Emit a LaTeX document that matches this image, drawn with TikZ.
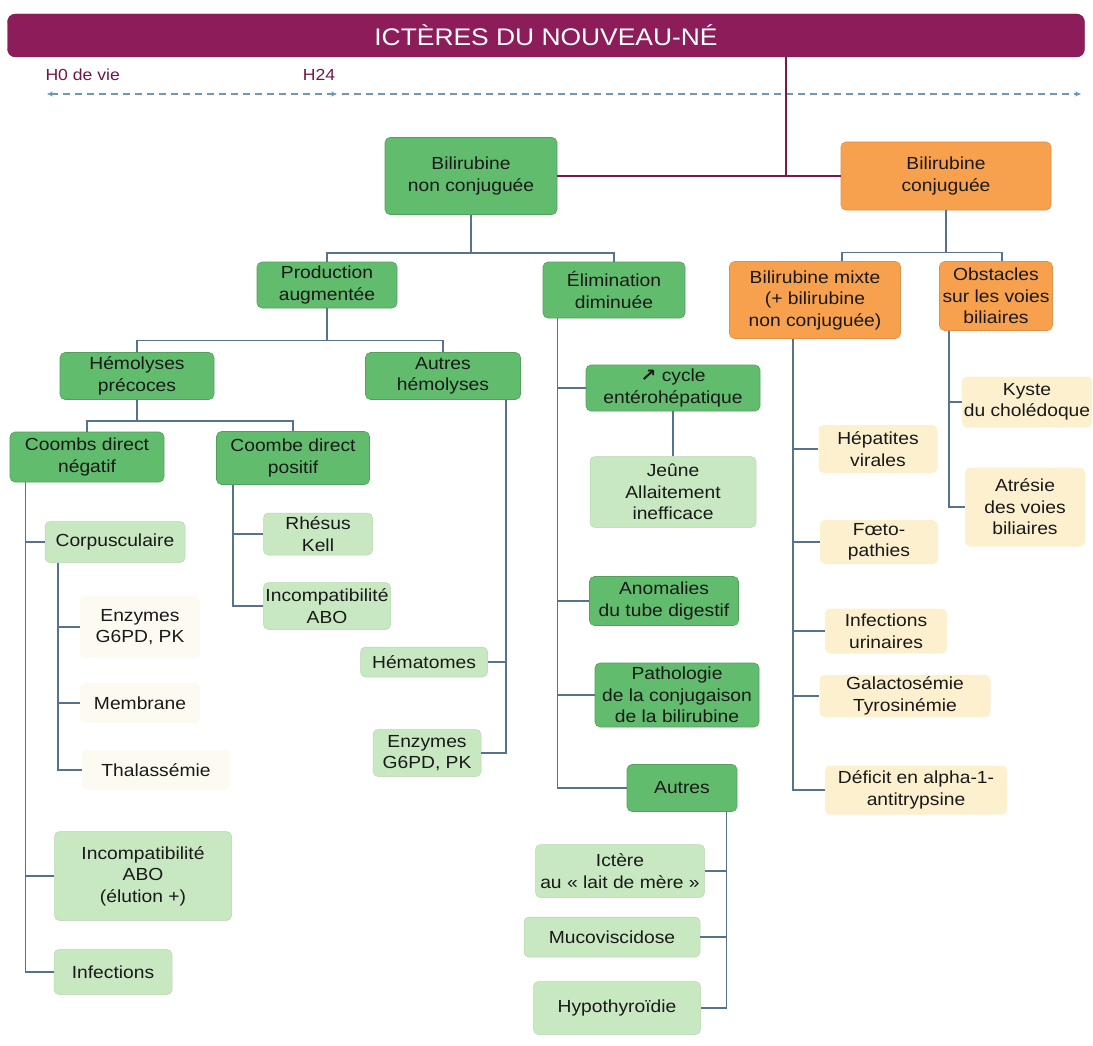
\documentclass[tikz,border=0pt]{standalone}
\usepackage{fontspec}
\setmainfont{Liberation Sans}[FakeStretch=1.1]
\newfontfamily\arrowfont{DejaVu Sans}[FakeStretch=1.1]
\usepackage{xcolor}
\usetikzlibrary{arrows.meta}

\definecolor{titlepurple}{HTML}{8C1D5A}
\definecolor{darkgreen}{HTML}{62BC6E}
\definecolor{lightgreen}{HTML}{C8E8C1}
\definecolor{orangebox}{HTML}{F7A14F}
\definecolor{lightyellow}{HTML}{FDF0CF}
\definecolor{creambox}{HTML}{FDFBF1}
\definecolor{linkblue}{HTML}{56728E}
\definecolor{timeblue}{HTML}{6F98B4}

\tikzset{
  box/.style={rounded corners=5pt, align=center, inner sep=2pt, text=black!90,
    font=\fontsize{17.5}{21.5}\selectfont},
  sz/.style 2 args={minimum width=#1, minimum height=#2},
  dg/.style={box, fill=darkgreen, draw=darkgreen!85!black, line width=0.6pt},
  lg/.style={box, fill=lightgreen, draw=lightgreen!92!black, line width=0.5pt},
  orbox/.style={box, fill=orangebox, draw=orangebox!90!black, line width=0.6pt},
  ly/.style={box, fill=lightyellow},
  cream/.style={box, fill=creambox},
  link/.style={draw=linkblue, line width=1.5pt},
  toplink/.style={draw=titlepurple!85!black, line width=1.5pt},
  timeline/.style={draw=timeblue, line width=1.2pt, dash pattern=on 7pt off 5pt},
  hlabel/.style={text=titlepurple!80!black, font=\fontsize{16}{19}\selectfont}
}

\begin{document}
\begin{tikzpicture}[x=1pt,y=-1pt]
\useasboundingbox (0,0) rectangle (1093,1046);

% title and time line
\node[fill=titlepurple, draw=titlepurple!80!black, rounded corners=8pt, sz={1077}{43},
  text=white, font=\fontsize{24}{28}\selectfont] (title) at (546,35.5) {ICTÈRES DU NOUVEAU-NÉ};
\node[hlabel, anchor=west] (h0) at (42,75) {H0 de vie};
\node[hlabel] (h24) at (319,75) {H24};
\coordinate (tstart) at (47,94);
\coordinate (tmid) at (337,94);
\coordinate (tmidb) at (342,94);
\coordinate (tend) at (1081,94);
\draw[timeline, {Stealth[length=6pt,width=5pt]}-{Stealth[length=6pt,width=5pt]}] (tstart) -- (tmid);
\draw[timeline, -{Stealth[length=6pt,width=5pt]}] (tmidb) -- (tend);

% first level
\node[dg, sz={172}{77}] (bnc) at (471,176) {Bilirubine\\non conjuguée};
\node[orbox, sz={210}{68}] (bc) at (946,176) {Bilirubine\\conjuguée};
\coordinate (tconn) at (786,176);
\draw[toplink] (title.south -| tconn) -- (tconn);
\draw[toplink] (bnc.east) -- (bc.west);

% non conjuguee
\node[dg, sz={140}{46}] (prod) at (327,285) {Production\\augmentée};
\node[dg, sz={142}{56}] (elim) at (614,290) {Élimination\\diminuée};
\draw[link] (bnc.south) -- ++(0,38) -| (prod.north);
\draw[link] (bnc.south) -- ++(0,38) -| (elim.north);

\node[dg, sz={154}{47}] (hemp) at (137,376) {Hémolyses\\précoces};
\node[dg, sz={155}{47}] (auth) at (443,376) {Autres\\hémolyses};
\draw[link] (prod.south) -- ++(0,32) -| (hemp.north);
\draw[link] (prod.south) -- ++(0,32) -| (auth.north);

\node[dg, sz={154}{50}] (cdn) at (87,457) {Coombs direct\\négatif};
\node[dg, sz={153}{53}] (cdp) at (293,458) {Coombe direct\\positif};
\draw[link] (hemp.south) -- ++(0,21) -| (cdn.north);
\draw[link] (hemp.south) -- ++(0,21) -| (cdp.north);

\node[lg, sz={140}{41}] (corp) at (115,542) {Corpusculaire};
\node[cream, sz={120}{62}] (enza) at (140,627) {Enzymes\\G6PD, PK};
\node[cream, sz={120}{40}] (memb) at (140,703) {Membrane};
\node[cream, sz={148}{40}] (thal) at (156,770) {Thalassémie};
\node[lg, sz={177}{89}] (aboe) at (143,876) {Incompatibilité\\ABO\\(élution +)};
\node[lg, sz={118}{45}] (inf) at (113,972) {Infections};
\draw[link] ([xshift=16pt]cdn.south west) |- (corp.west);
\draw[link] ([xshift=16pt]cdn.south west) |- (aboe.west);
\draw[link] ([xshift=16pt]cdn.south west) |- (inf.west);
\draw[link] ([xshift=13pt]corp.south west) |- (enza.west);
\draw[link] ([xshift=13pt]corp.south west) |- (memb.west);
\draw[link] ([xshift=13pt]corp.south west) |- (thal.west);

\node[lg, sz={109}{42}] (rh) at (318,534) {Rhésus\\Kell};
\node[lg, sz={127}{47}] (abo) at (327,606) {Incompatibilité\\ABO};
\draw[link] ([xshift=17pt]cdp.south west) |- (rh.west);
\draw[link] ([xshift=17pt]cdp.south west) |- (abo.west);

\node[lg, sz={127}{30}] (hema) at (424,662) {Hématomes};
\node[lg, sz={108}{47}] (enzb) at (427,753) {Enzymes\\G6PD, PK};
\draw[link] ([xshift=-15pt]auth.south east) |- (hema.east);
\draw[link] ([xshift=-15pt]auth.south east) |- (enzb.east);

\node[dg, sz={174}{46}] (cycle) at (673,388) {{\arrowfont\bfseries ↗} cycle\\entérohépatique};
\node[lg, sz={166}{71}] (jeune) at (673,492) {Jeûne\\Allaitement\\inefficace};
\node[dg, sz={149}{49}] (anom) at (664,601) {Anomalies\\du tube digestif};
\node[dg, sz={164}{64}] (patho) at (677,695) {Pathologie\\de la conjugaison\\de la bilirubine};
\node[dg, sz={110}{47}] (autr) at (682,788) {Autres};
\draw[link] ([xshift=15pt]elim.south west) |- (cycle.west);
\draw[link] ([xshift=15pt]elim.south west) |- (anom.west);
\draw[link] ([xshift=15pt]elim.south west) |- (patho.west);
\draw[link] ([xshift=15pt]elim.south west) |- (autr.west);
\draw[link] (cycle.south) -- (jeune.north);

\node[lg, sz={169}{53}] (ict) at (620,871) {Ictère\\au « lait de mère »};
\node[lg, sz={176}{40}] (muco) at (612,937) {Mucoviscidose};
\node[lg, sz={167}{53}] (hypo) at (617,1008) {Hypothyroïdie};
\draw[link] ([xshift=-11pt]autr.south east) |- (ict.east);
\draw[link] ([xshift=-11pt]autr.south east) |- (muco.east);
\draw[link] ([xshift=-11pt]autr.south east) |- (hypo.east);

% conjuguee
\node[orbox, sz={171}{77}] (mixte) at (815,300) {Bilirubine mixte\\(+ bilirubine\\non conjuguée)};
\node[orbox, sz={113}{69}] (obst) at (996,296) {Obstacles\\sur les voies\\biliaires};
\draw[link] (bc.south) -- ++(0,42) -| ([xshift=27pt]mixte.north);
\draw[link] (bc.south) -- ++(0,42) -| ([xshift=6pt]obst.north);

\node[ly, sz={119}{48}] (hep) at (878,449) {Hépatites\\virales};
\node[ly, sz={118}{44}] (foeto) at (879,542) {Fœto-\\pathies};
\node[ly, sz={122}{45}] (iu) at (886,631) {Infections\\urinaires};
\node[ly, sz={171}{42}] (gal) at (905,696) {Galactosémie\\Tyrosinémie};
\node[ly, sz={182}{49}] (def) at (916,790) {Déficit en alpha-1-\\antitrypsine};
\draw[link] ([xshift=64pt]mixte.south west) |- (hep.west);
\draw[link] ([xshift=64pt]mixte.south west) |- (foeto.west);
\draw[link] ([xshift=64pt]mixte.south west) |- (iu.west);
\draw[link] ([xshift=64pt]mixte.south west) |- (gal.west);
\draw[link] ([xshift=64pt]mixte.south west) |- (def.west);

\node[ly, sz={126}{51}] (kyste) at (1027,402) {Kyste\\du cholédoque};
\node[ly, sz={120}{79}] (atr) at (1025,507) {Atrésie\\des voies\\biliaires};
\draw[link] ([xshift=10pt]obst.south west) |- (kyste.west);
\draw[link] ([xshift=10pt]obst.south west) |- (atr.west);
\end{tikzpicture}
\end{document}
